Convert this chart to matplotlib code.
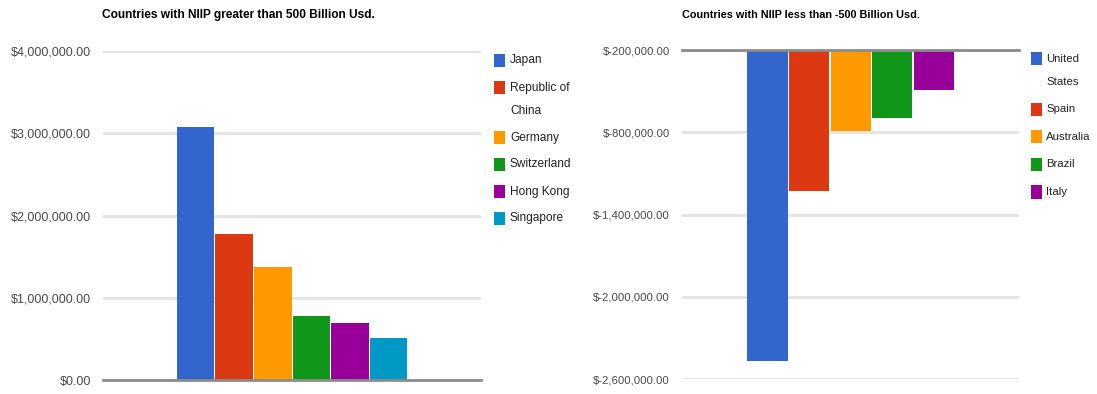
import matplotlib
matplotlib.use("Agg")
import matplotlib.pyplot as plt
from matplotlib.ticker import FuncFormatter
from matplotlib.patches import Rectangle

# ---- data ----
pos_countries = ["Japan", "Republic of\nChina", "Germany", "Switzerland", "Hong Kong", "Singapore"]
pos_values = [3080000, 1780000, 1370000, 780000, 690000, 510000]
pos_title = "Countries with NIIP greater than 500 Billion Usd."
pos_ticks = [0, 1000000, 2000000, 3000000, 4000000]

neg_countries = ["United\nStates", "Spain", "Australia", "Brazil", "Italy"]
neg_values = [-2470000, -1230000, -790000, -695000, -490000]
neg_title = "Countries with NIIP less than -500 Billion Usd."
neg_ticks = [-2600000, -2000000, -1400000, -800000, -200000]

colors = ["#3366cc", "#dc3912", "#ff9900", "#109618", "#990099", "#0099c6"]

FONT = ["Liberation Sans", "DejaVu Sans"]
plt.rcParams["font.family"] = FONT

W, H = 1097, 394
fig = plt.figure(figsize=(W / 100, H / 100), dpi=100)


def fx(px):
    return px / W


def fy(py):
    return 1 - py / H


def money(v, _):
    if v < 0:
        return "$-{:,.2f}".format(-v)
    return "${:,.2f}".format(v)


def legend(names, sq_x, text_x, first_y, fs, row_step=27.3, line_step=23.0):
    y = first_y
    for i, nm in enumerate(names):
        lines = nm.split("\n")
        fig.patches.append(Rectangle((fx(sq_x), fy(y + 6.5)), fx(10.5), 13 / H,
                                     transform=fig.transFigure, facecolor=colors[i],
                                     edgecolor="none"))
        for j, line in enumerate(lines):
            fig.text(fx(text_x), fy(y + j * line_step), line, fontsize=fs,
                     color="#222222", ha="left", va="center")
        y += row_step + (len(lines) - 1) * line_step


def draw(ax, values, ticks, title, group_frac, baseline_top, title_x, tick_fs, title_fs):
    n = len(values)
    step = group_frac / n
    start = -group_frac / 2 + step / 2
    for i, v in enumerate(values):
        ax.bar(start + i * step, v, width=step * 0.97, color=colors[i], zorder=3)
    ax.set_xlim(-0.5, 0.5)
    ax.set_ylim(min(ticks), max(ticks))
    ax.set_yticks(ticks)
    ax.yaxis.set_major_formatter(FuncFormatter(money))
    ax.tick_params(axis="y", length=0, pad=9, labelsize=tick_fs, labelcolor="#4a4a4a")
    ax.set_xticks([])
    for s in ax.spines.values():
        s.set_visible(False)
    ax.grid(axis="y", color="#e3e3e3", linewidth=2, zorder=0)
    base = max(ticks) if baseline_top else min(ticks)
    ax.axhline(base, color="#8c8c8c", linewidth=2, zorder=4, clip_on=False)
    fig.text(title_x, fy(15), title, fontsize=title_fs, fontweight="bold", ha="left",
             va="center", color="#000000")


ax1 = fig.add_axes([0.0943, 0.0355, 0.344, 0.835])
draw(ax1, pos_values, pos_ticks, pos_title, 0.614, False, fx(102), 9, 8.6)
legend(pos_countries, 494, 510, 60.5, 8.6, row_step=27.0, line_step=23.0)

ax2 = fig.add_axes([0.622, 0.038, 0.307, 0.835])
draw(ax2, neg_values, neg_ticks, neg_title, 0.617, True, fx(682), 8.2, 7.8)
legend(neg_countries, 1031, 1046, 58.5, 8.2, row_step=27.5, line_step=23.5)

fig.savefig("out.png", dpi=100, facecolor="white")
